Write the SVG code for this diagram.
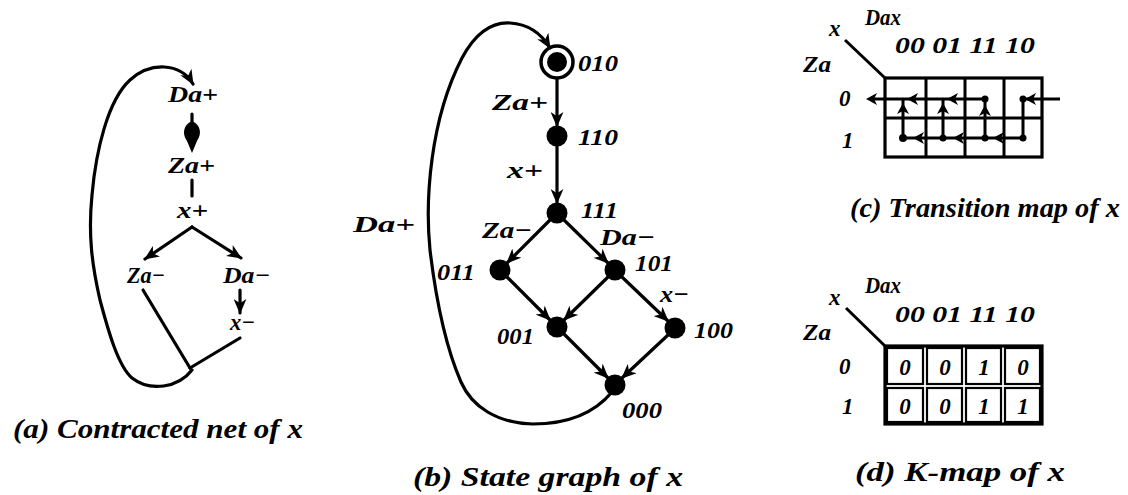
<svg xmlns="http://www.w3.org/2000/svg" xmlns:xlink="http://www.w3.org/1999/xlink" width="1128" height="495" viewBox="0 0 1128 495">
<style>
text{font-family:"Liberation Serif","DejaVu Serif",serif;font-weight:bold;font-style:italic;fill:#000}
.lb{font-size:24px}
.sm{font-size:23px}
.cap{font-size:27px}
.ln{stroke:#000;stroke-width:3.2;fill:none;stroke-linecap:round}
.tn{stroke:#000;stroke-width:3;fill:none}
.arr{marker-end:url(#ah)}
.nd{fill:#000}
</style>
<defs>
<marker id="ah" viewBox="0 0 14 12" refX="13" refY="6" markerWidth="15" markerHeight="13" orient="auto" markerUnits="userSpaceOnUse"><path d="M0 0 L14 6 L0 12 L4 6 Z" fill="#000"/></marker>
<path id="sh" d="M0 0 L-11 -6 L-8 0 L-11 6 Z" fill="#000"/>
</defs>
<rect width="1128" height="495" fill="#fff"/>

<!-- (a) Contracted net -->
<g id="a-nodes">
<g id="a-Da-plus"><text class="sm" x="168" y="102" textLength="50" lengthAdjust="spacingAndGlyphs">Da+</text></g>
<g id="a-Za-plus"><text class="sm" x="168" y="173" textLength="47" lengthAdjust="spacingAndGlyphs">Za+</text></g>
<g id="a-x-plus"><text class="sm" x="177" y="218" textLength="31" lengthAdjust="spacingAndGlyphs">x+</text></g>
<g id="a-Za-minus"><text class="sm" x="127" y="283" textLength="38" lengthAdjust="spacingAndGlyphs">Za−</text></g>
<g id="a-Da-minus"><text class="sm" x="223" y="283" textLength="47" lengthAdjust="spacingAndGlyphs">Da−</text></g>
<g id="a-x-minus"><text class="sm" x="230" y="330" textLength="25" lengthAdjust="spacingAndGlyphs">x−</text></g>
</g>
<g id="a-connectors">
<path class="ln" d="M192 114 L192 124"/>
<path d="M192 121 C201 125 202 134 197 141 L192 153 L187 141 C182 134 183 125 192 121 Z" fill="#000"/>
<path class="ln" d="M192 180 L192 196"/>
<path class="ln arr" d="M192 227 L145 259"/>
<path class="ln arr" d="M192 227 L241 258"/>
<path class="ln arr" d="M240 290 L240 313"/>
<path class="ln" d="M143 290 L190 368"/>
<path class="ln" d="M240 338 L190 368"/>
<path class="ln arr" d="M192 370 C178 388 150 392 132 378 C118 366 108 330 100 300 C92 265 88 235 92 195 C96 150 108 100 130 80 C150 62 180 62 193 84"/>
</g>
<text class="cap" x="13" y="438" textLength="290" lengthAdjust="spacingAndGlyphs">(a) Contracted net of x</text>

<!-- (b) State graph -->
<g id="b-connectors">
<path class="ln arr" d="M557 79 L557 126"/>
<path class="ln arr" d="M557 146 L557 203"/>
<path class="ln arr" d="M551 219 L507 263"/>
<path class="ln arr" d="M563 219 L608 263"/>
<path class="ln arr" d="M507 277 L550 320"/>
<path class="ln arr" d="M608 277 L564 320"/>
<path class="ln arr" d="M622 277 L668 321"/>
<path class="ln arr" d="M564 334 L608 378"/>
<path class="ln arr" d="M668 335 L622 378"/>
<path class="ln arr" d="M612 392 C592 416 562 424 533 424 C497 423 472 407 461 382 C447 350 436 300 430 250 C425 200 430 120 462 58 C476 32 493 22 510 23 C527 24 541 33 550 48"/>
</g>
<g id="b-n010"><circle cx="557" cy="62" r="16" fill="none" stroke="#000" stroke-width="3.5"/><circle class="nd" cx="557" cy="62" r="10"/><text class="lb" x="578" y="71" textLength="40" lengthAdjust="spacingAndGlyphs">010</text></g>
<g id="b-n110"><circle class="nd" cx="557" cy="136" r="10.5"/><text class="lb" x="578" y="145" textLength="40" lengthAdjust="spacingAndGlyphs">110</text></g>
<g id="b-n111"><circle class="nd" cx="557" cy="213" r="10.5"/><text class="lb" x="581" y="218" textLength="37" lengthAdjust="spacingAndGlyphs">111</text></g>
<g id="b-n011"><circle class="nd" cx="500" cy="270" r="10.5"/><text class="lb" x="437" y="280" textLength="38" lengthAdjust="spacingAndGlyphs">011</text></g>
<g id="b-n101"><circle class="nd" cx="615" cy="270" r="10.5"/><text class="lb" x="635" y="271" textLength="38" lengthAdjust="spacingAndGlyphs">101</text></g>
<g id="b-n001"><circle class="nd" cx="557" cy="327" r="10.5"/><text class="lb" x="497" y="344" textLength="37" lengthAdjust="spacingAndGlyphs">001</text></g>
<g id="b-n100"><circle class="nd" cx="675" cy="328" r="10.5"/><text class="lb" x="694" y="338" textLength="39" lengthAdjust="spacingAndGlyphs">100</text></g>
<g id="b-n000"><circle class="nd" cx="615" cy="385" r="10.5"/><text class="lb" x="622" y="418" textLength="40" lengthAdjust="spacingAndGlyphs">000</text></g>
<g id="b-labels">
<text class="lb" x="492" y="110" textLength="56" lengthAdjust="spacingAndGlyphs">Za+</text>
<text class="lb" x="507" y="178" textLength="36" lengthAdjust="spacingAndGlyphs">x+</text>
<text class="lb" x="482" y="238" textLength="50" lengthAdjust="spacingAndGlyphs">Za−</text>
<text class="lb" x="600" y="245" textLength="55" lengthAdjust="spacingAndGlyphs">Da−</text>
<text class="lb" x="660" y="302" textLength="29" lengthAdjust="spacingAndGlyphs">x−</text>
<text class="lb" x="353" y="232" textLength="62" lengthAdjust="spacingAndGlyphs">Da+</text>
</g>
<text class="cap" x="413" y="486" textLength="270" lengthAdjust="spacingAndGlyphs">(b) State graph of x</text>

<!-- (c) Transition map -->
<g id="c-map">
<text class="sm" x="865" y="25" textLength="36" lengthAdjust="spacingAndGlyphs">Dax</text>
<text class="sm" x="829" y="36">x</text>
<text class="sm" x="803" y="72" textLength="28" lengthAdjust="spacingAndGlyphs">Za</text>
<text class="sm" x="895" y="53" textLength="140" lengthAdjust="spacingAndGlyphs">00 01 11 10</text>
<text class="sm" x="839" y="106">0</text>
<text class="sm" x="842" y="148">1</text>
<path class="tn" d="M845 40 L885 78"/>
<rect x="885" y="78" width="157" height="79" class="ln"/>
<path class="tn" d="M885 118 H1042 M926 78 V157 M965 78 V157 M1004 78 V157"/>
</g>
<g id="c-connectors">
<path class="tn" d="M1060 99 H1023 V138 H903 M985 138 V99 H870 M943 138 V99 M903 138 V99"/>
<use xlink:href="#sh" transform="translate(1025,99) rotate(180)"/>
<use xlink:href="#sh" transform="translate(993,138) rotate(180)"/>
<use xlink:href="#sh" transform="translate(953,138) rotate(180)"/>
<use xlink:href="#sh" transform="translate(913,138) rotate(180)"/>
<use xlink:href="#sh" transform="translate(903,103) rotate(-90)"/>
<use xlink:href="#sh" transform="translate(943,103) rotate(-90)"/>
<use xlink:href="#sh" transform="translate(985,105) rotate(-90)"/>
<use xlink:href="#sh" transform="translate(947,99) rotate(180)"/>
<use xlink:href="#sh" transform="translate(907,99) rotate(180)"/>
<use xlink:href="#sh" transform="translate(866,99) rotate(180)"/>
<circle class="nd" cx="1023" cy="99" r="3.5"/><circle class="nd" cx="1023" cy="138" r="3.5"/>
<circle class="nd" cx="985" cy="138" r="3.5"/><circle class="nd" cx="943" cy="138" r="3.5"/><circle class="nd" cx="903" cy="138" r="4"/>
<circle class="nd" cx="985" cy="99" r="3.5"/>
</g>
<text class="cap" x="850" y="217" textLength="270" lengthAdjust="spacingAndGlyphs">(c) Transition map of x</text>

<!-- (d) K-map -->
<g id="d-map">
<text class="sm" x="865" y="293" textLength="36" lengthAdjust="spacingAndGlyphs">Dax</text>
<text class="sm" x="829" y="305">x</text>
<text class="sm" x="803" y="340" textLength="28" lengthAdjust="spacingAndGlyphs">Za</text>
<text class="sm" x="895" y="322" textLength="140" lengthAdjust="spacingAndGlyphs">00 01 11 10</text>
<text class="sm" x="839" y="374">0</text>
<text class="sm" x="842" y="414">1</text>
<path class="tn" d="M846 308 L885 346"/>
<rect x="885" y="346" width="157" height="78" class="ln"/>
<g fill="none" stroke="#000" stroke-width="2.2">
<rect x="887" y="348" width="36" height="36"/><rect x="927" y="348" width="35" height="36"/><rect x="966" y="348" width="35" height="36"/><rect x="1005" y="348" width="35" height="36"/>
<rect x="887" y="388" width="36" height="34"/><rect x="927" y="388" width="35" height="34"/><rect x="966" y="388" width="35" height="34"/><rect x="1005" y="388" width="35" height="34"/>
</g>
<g text-anchor="middle">
<text class="sm" x="905" y="375">0</text><text class="sm" x="945" y="375">0</text><text class="sm" x="984" y="375">1</text><text class="sm" x="1023" y="375">0</text>
<text class="sm" x="905" y="414">0</text><text class="sm" x="945" y="414">0</text><text class="sm" x="984" y="414">1</text><text class="sm" x="1023" y="414">1</text>
</g>
</g>
<text class="cap" x="855" y="481" textLength="210" lengthAdjust="spacingAndGlyphs">(d) K-map of x</text>
</svg>
